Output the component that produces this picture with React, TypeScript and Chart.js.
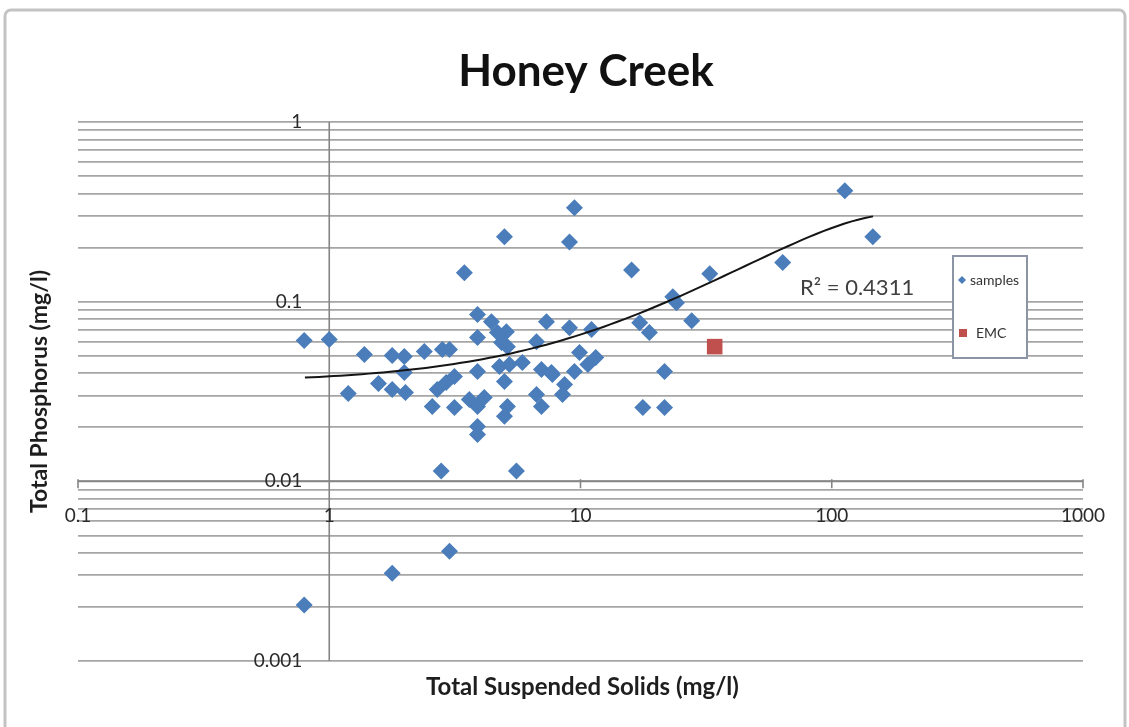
import React, { useEffect, useRef } from "react";
import { Chart, registerables } from "chart.js";

Chart.register(...registerables);

// ---- text ----
const CHART_TITLE = "Honey Creek";
const X_TITLE = "Total Suspended Solids (mg/l)";
const Y_TITLE = "Total Phosphorus (mg/l)";
const R2_LABEL = "R² = 0.4311";
const SAMPLES_LABEL = "samples";
const EMC_LABEL = "EMC";

// ---- samples: total suspended solids (mg/l) vs total phosphorus (mg/l) ----
const sampleTss = [
  0.795, 1.0, 1.19, 1.38, 1.57, 1.78, 1.78, 1.99, 1.99, 2.01,
  2.39, 2.57, 2.82, 3.01, 3.15, 2.69, 2.92, 3.15, 2.79, 5.56,
  0.795, 1.78, 3.01, 3.45, 3.89, 4.42, 3.89, 4.67, 5.07, 4.85,
  5.12, 7.32, 6.68, 3.89, 4.76, 5.21, 5.87, 4.98, 6.99, 7.73,
  3.61, 4.14, 3.89, 5.12, 4.98, 6.68, 6.99, 3.89, 3.89, 9.04,
  11.06, 17.2, 18.8, 9.91, 11.5, 10.7, 7.66, 9.46, 8.64, 8.48,
  17.7, 21.6, 21.6, 9.46, 4.98, 9.04, 15.97, 112.7, 145.7, 63.8,
  32.7, 23.3, 24.1, 27.7,
];
const sampleTp = [
  0.0607, 0.0615, 0.0308, 0.0508, 0.035, 0.0501, 0.0324, 0.0495, 0.0403, 0.0312,
  0.0528, 0.0261, 0.0541, 0.0541, 0.0258, 0.0324, 0.0355, 0.0383, 0.0114, 0.0114,
  0.00205, 0.00308, 0.00408, 0.145, 0.0847, 0.0774, 0.0631, 0.0673, 0.0681, 0.0592,
  0.0562, 0.0774, 0.0599, 0.0408, 0.0435, 0.0447, 0.0458, 0.0359, 0.0419, 0.0393,
  0.0285, 0.0293, 0.0261, 0.0261, 0.023, 0.0304, 0.0261, 0.0202, 0.0182, 0.0717,
  0.0699, 0.0764, 0.0673, 0.0521, 0.0489, 0.0447, 0.0403, 0.0408, 0.0346, 0.0304,
  0.0258, 0.0258, 0.0408, 0.333, 0.23, 0.215, 0.15, 0.414, 0.23, 0.165,
  0.143, 0.1066, 0.0987, 0.0784,
];

// ---- event mean concentration ----
const emcTss = [34.2];
const emcTp = [0.0562];

// ---- second-order polynomial trendline y = c + b*x + a*x^2 ----
const TREND_C = 0.0353;
const TREND_B = 0.00312;
const TREND_A = -9.03e-6;
const TREND_X_FROM = 0.8;
const TREND_X_TO = 146;
const TREND_STEPS = 80;

// ---- axes ----
const X_MIN = 0.1;
const X_MAX = 1000;
const Y_MIN = 0.001;
const Y_MAX = 1;
const X_TICKS = [0.1, 1, 10, 100, 1000];
const X_TICK_LABELS = ["0.1", "1", "10", "100", "1000"];
const Y_TICKS = [0.001, 0.01, 0.1, 1];
const Y_TICK_LABELS = ["0.001", "0.01", "0.1", "1"];
const Y_GRID_STEPS = [1, 2, 3, 4, 5, 6, 7, 8, 9];
const CROSS_X = 1; // vertical axis crosses at TSS = 1
const CROSS_Y = 0.01; // horizontal axis crosses at TP = 0.01

const BLUE = "#4a7dba";
const RED = "#c0504d";
const FONT = "Lato, 'Open Sans', sans-serif";

function trendPoints() {
  const pts: { x: number; y: number }[] = [];
  const l0 = Math.log10(TREND_X_FROM);
  const l1 = Math.log10(TREND_X_TO);
  for (let i = 0; i <= TREND_STEPS; i++) {
    const x = Math.pow(10, l0 + ((l1 - l0) * i) / TREND_STEPS);
    pts.push({ x, y: TREND_C + TREND_B * x + TREND_A * x * x });
  }
  return pts;
}

const decorations = {
  id: "decorations",
  beforeDraw(chart: any) {
    const { ctx, width } = chart;
    ctx.save();
    ctx.fillStyle = "#ffffff";
    ctx.fillRect(0, 0, width, chart.height);
    // outer frame
    ctx.strokeStyle = "#c3c3c3";
    ctx.lineWidth = 3;
    ctx.beginPath();
    ctx.roundRect(5, 10, width - 9, 780, 6);
    ctx.stroke();
    ctx.restore();
  },
  beforeDatasetsDraw(chart: any) {
    const { ctx, chartArea: a, scales } = chart;
    const x = scales.x;
    const y = scales.y;
    const ax = x.getPixelForValue(CROSS_X);
    const ay = y.getPixelForValue(CROSS_Y);
    ctx.save();
    ctx.strokeStyle = "#858585";
    ctx.lineWidth = 1.6;
    ctx.beginPath();
    ctx.moveTo(ax, a.top);
    ctx.lineTo(ax, a.bottom);
    ctx.moveTo(a.left, ay);
    ctx.lineTo(a.right, ay);
    X_TICKS.forEach((v) => {
      const px = x.getPixelForValue(v);
      ctx.moveTo(px, ay - 2);
      ctx.lineTo(px, ay + 7);
    });
    ctx.stroke();
    ctx.restore();
  },
  afterDraw(chart: any) {
    const { ctx, chartArea: a, scales } = chart;
    const x = scales.x;
    const y = scales.y;
    const ax = x.getPixelForValue(CROSS_X);
    const ay = y.getPixelForValue(CROSS_Y);
    ctx.save();

    // title
    ctx.fillStyle = "#111";
    ctx.font = `bold 44px ${FONT}`;
    ctx.textAlign = "center";
    ctx.textBaseline = "middle";
    ctx.fillText(CHART_TITLE, 586, 72);

    // tick labels
    ctx.fillStyle = "#2a2a2a";
    ctx.font = `19px ${FONT}`;
    ctx.textAlign = "right";
    Y_TICKS.forEach((v, i) => {
      ctx.fillText(Y_TICK_LABELS[i], ax - 27, y.getPixelForValue(v));
    });
    ctx.textAlign = "center";
    X_TICKS.forEach((v, i) => {
      ctx.fillText(X_TICK_LABELS[i], x.getPixelForValue(v), ay + 35);
    });

    // axis titles
    ctx.fillStyle = "#1e1e1e";
    ctx.font = `bold 24px ${FONT}`;
    ctx.fillText(X_TITLE, (a.left + a.right) / 2 + 2, 687);
    ctx.save();
    ctx.translate(40, (a.top + a.bottom) / 2);
    ctx.rotate(-Math.PI / 2);
    ctx.font = `bold 23px ${FONT}`;
    ctx.fillText(Y_TITLE, 0, 0);
    ctx.restore();

    // R² label
    ctx.fillStyle = "#404040";
    ctx.font = `22px ${FONT}`;
    ctx.textAlign = "left";
    ctx.fillText(R2_LABEL, 800, 288);

    // legend
    const lx = 953;
    const ly = 256;
    const lw = 74;
    const lh = 102;
    ctx.fillStyle = "#ffffff";
    ctx.fillRect(lx, ly, lw, lh);
    ctx.strokeStyle = "#8c95a6";
    ctx.lineWidth = 2;
    ctx.strokeRect(lx, ly, lw, lh);
    ctx.fillStyle = BLUE;
    ctx.beginPath();
    ctx.moveTo(962, 276);
    ctx.lineTo(966, 280);
    ctx.lineTo(962, 284);
    ctx.lineTo(958, 280);
    ctx.closePath();
    ctx.fill();
    ctx.fillStyle = RED;
    ctx.fillRect(959, 329, 8, 8);
    ctx.fillStyle = "#333";
    ctx.font = `14px ${FONT}`;
    ctx.fillText(SAMPLES_LABEL, 970, 280);
    ctx.fillText(EMC_LABEL, 976, 333);

    ctx.restore();
  },
};

export default function App() {
  const canvasRef = useRef<HTMLCanvasElement | null>(null);

  useEffect(() => {
    const canvas = canvasRef.current;
    if (!canvas) return;

    const samples = sampleTss.map((v, i) => ({ x: v, y: sampleTp[i] }));
    const emc = emcTss.map((v, i) => ({ x: v, y: emcTp[i] }));

    const chart = new Chart(canvas, {
      type: "scatter",
      data: {
        datasets: [
          {
            label: "trend",
            data: trendPoints(),
            showLine: true,
            borderColor: "#151515",
            borderWidth: 2,
            pointRadius: 0,
            fill: false,
          },
          {
            label: EMC_LABEL,
            data: emc,
            pointStyle: "rect",
            pointRadius: 11,
            backgroundColor: RED,
            borderWidth: 0,
          },
          {
            label: SAMPLES_LABEL,
            data: samples,
            pointStyle: "rectRot",
            pointRadius: 8.5,
            backgroundColor: BLUE,
            borderWidth: 0,
          },
        ],
      },
      options: {
        animation: false,
        responsive: false,
        devicePixelRatio: 1,
        layout: { padding: { left: 78, right: 46, top: 122, bottom: 66 } },
        plugins: {
          legend: { display: false },
          title: { display: false },
          tooltip: { enabled: false },
        },
        scales: {
          x: {
            type: "logarithmic",
            min: X_MIN,
            max: X_MAX,
            border: { display: false },
            grid: { display: false, drawTicks: false },
            ticks: { display: false },
          },
          y: {
            type: "logarithmic",
            min: Y_MIN,
            max: Y_MAX,
            border: { display: false },
            grid: { color: "#a6a6a6", lineWidth: 1.8, drawTicks: false },
            ticks: { display: false, autoSkip: false },
            afterBuildTicks: (scale: any) => {
              const ticks: { value: number }[] = [];
              for (let e = Math.log10(Y_MIN); e < Math.log10(Y_MAX); e++) {
                Y_GRID_STEPS.forEach((s) => ticks.push({ value: s * Math.pow(10, e) }));
              }
              ticks.push({ value: Y_MAX });
              scale.ticks = ticks;
            },
          },
        },
      },
      plugins: [decorations],
    });

    return () => chart.destroy();
  }, []);

  return (
    <div
      style={{
        position: "fixed",
        left: 0,
        top: 0,
        width: 1129,
        height: 727,
        overflow: "hidden",
        background: "#fff",
      }}
    >
      <canvas
        ref={canvasRef}
        width={1129}
        height={727}
        style={{ display: "block", width: 1129, height: 727 }}
      />
    </div>
  );
}
